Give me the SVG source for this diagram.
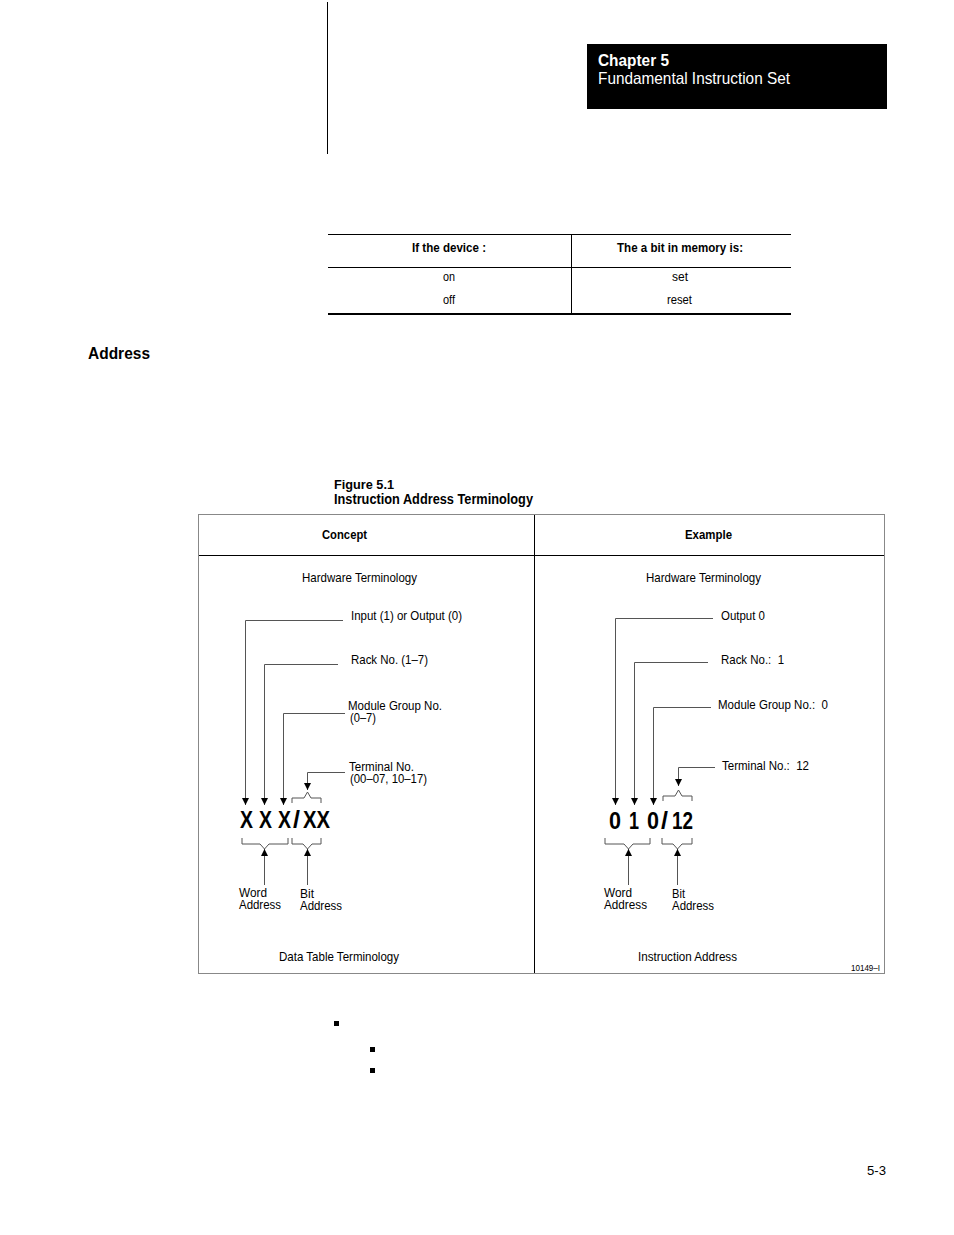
<svg xmlns="http://www.w3.org/2000/svg" width="954" height="1235" viewBox="0 0 954 1235">
<defs>
<style>
text{font-family:"Liberation Sans",Arial,sans-serif;fill:#000}
.t{font-size:13px}
.s{font-size:12.5px}
.b{font-weight:bold}
.h{font-size:13px;font-weight:bold}
.big{font-size:24px;font-weight:bold}
.pre{white-space:pre}
.c{stroke:#555;stroke-width:1;fill:none}
.k{stroke:#000;fill:none}
</style>
<marker id="ar" markerUnits="userSpaceOnUse" markerWidth="8" markerHeight="10" refX="7" refY="3.5" orient="auto">
<path d="M0,0 L7,3.5 L0,7 z" fill="#000"/>
</marker>
</defs>
<rect width="954" height="1235" fill="#fff"/>
<line x1="327.5" y1="2" x2="327.5" y2="154" class="k"/>
<g id="header">
<rect x="587" y="44" width="300" height="65" fill="#000"/>
<text x="598" y="66" style="font-size:16.5px;font-weight:bold;fill:#fff" textLength="71" lengthAdjust="spacingAndGlyphs">Chapter 5</text>
<text x="598" y="84" style="font-size:16.5px;fill:#fff" textLength="192" lengthAdjust="spacingAndGlyphs">Fundamental Instruction Set</text>
</g>
<g id="table">
<line x1="328" y1="234.5" x2="791" y2="234.5" class="k"/>
<line x1="328" y1="267.5" x2="791" y2="267.5" class="k"/>
<line x1="328" y1="314" x2="791" y2="314" class="k" stroke-width="2"/>
<line x1="571.5" y1="234" x2="571.5" y2="314" class="k"/>
<text x="412" y="252" class="h" textLength="74" lengthAdjust="spacingAndGlyphs">If the device :</text>
<text x="617" y="252" class="h" textLength="126" lengthAdjust="spacingAndGlyphs">The a bit in memory is:</text>
<text x="443" y="281" class="t" textLength="12" lengthAdjust="spacingAndGlyphs">on</text>
<text x="443" y="304" class="t" textLength="12" lengthAdjust="spacingAndGlyphs">off</text>
<text x="672" y="281" class="t" textLength="16" lengthAdjust="spacingAndGlyphs">set</text>
<text x="667" y="304" class="t" textLength="25" lengthAdjust="spacingAndGlyphs">reset</text>
</g>
<text x="88" y="359" class="b" style="font-size:16.5px" textLength="62" lengthAdjust="spacingAndGlyphs">Address</text>
<text x="334" y="489" class="h" textLength="60" lengthAdjust="spacingAndGlyphs">Figure 5.1</text>
<text x="334" y="504" class="h" style="font-size:14px" textLength="199" lengthAdjust="spacingAndGlyphs">Instruction Address Terminology</text>
<g id="frame">
<rect x="198.5" y="514.5" width="686" height="459" fill="none" stroke="#888"/>
<line x1="199" y1="555.5" x2="884" y2="555.5" class="k"/>
<line x1="534.5" y1="515" x2="534.5" y2="973" class="k"/>
<text x="322" y="539" class="h" textLength="45" lengthAdjust="spacingAndGlyphs">Concept</text>
<text x="685" y="539" class="h" textLength="47" lengthAdjust="spacingAndGlyphs">Example</text>
</g>
<g id="concept">
<text x="302" y="582" class="t" textLength="115" lengthAdjust="spacingAndGlyphs">Hardware Terminology</text>
<text x="351" y="620" class="t" textLength="111" lengthAdjust="spacingAndGlyphs">Input (1) or Output (0)</text>
<text x="351" y="664" class="t" textLength="77" lengthAdjust="spacingAndGlyphs">Rack No. (1–7)</text>
<text x="348" y="710" class="s" textLength="94" lengthAdjust="spacingAndGlyphs">Module Group No.</text>
<text x="350" y="722" class="s" textLength="26" lengthAdjust="spacingAndGlyphs">(0–7)</text>
<text x="349" y="771" class="s" textLength="65" lengthAdjust="spacingAndGlyphs">Terminal No.</text>
<text x="350" y="783" class="s" textLength="77" lengthAdjust="spacingAndGlyphs">(00–07, 10–17)</text>
<text x="240" y="828" class="big" textLength="13" lengthAdjust="spacingAndGlyphs">X</text>
<text x="259" y="828" class="big" textLength="13" lengthAdjust="spacingAndGlyphs">X</text>
<text x="278" y="828" class="big" textLength="13" lengthAdjust="spacingAndGlyphs">X</text>
<text x="293" y="828" class="big" textLength="7" lengthAdjust="spacingAndGlyphs">/</text>
<text x="303" y="828" class="big" textLength="27" lengthAdjust="spacingAndGlyphs">XX</text>
<text x="239" y="897" class="s" textLength="28" lengthAdjust="spacingAndGlyphs">Word</text>
<text x="239" y="909" class="s" textLength="42" lengthAdjust="spacingAndGlyphs">Address</text>
<text x="300" y="898" class="s" textLength="14" lengthAdjust="spacingAndGlyphs">Bit</text>
<text x="300" y="910" class="s" textLength="42" lengthAdjust="spacingAndGlyphs">Address</text>
<text x="279" y="961" class="t" textLength="120" lengthAdjust="spacingAndGlyphs">Data Table Terminology</text>
</g>
<g id="example">
<text x="646" y="582" class="t" textLength="115" lengthAdjust="spacingAndGlyphs">Hardware Terminology</text>
<text x="721" y="620" class="t" textLength="44" lengthAdjust="spacingAndGlyphs">Output 0</text>
<text x="721" y="664" class="t pre" textLength="63" lengthAdjust="spacingAndGlyphs">Rack No.:  1</text>
<text x="718" y="709" class="t pre" textLength="110" lengthAdjust="spacingAndGlyphs">Module Group No.:  0</text>
<text x="722" y="770" class="t pre" textLength="87" lengthAdjust="spacingAndGlyphs">Terminal No.:  12</text>
<text x="609" y="829" class="big" textLength="12" lengthAdjust="spacingAndGlyphs">0</text>
<text x="629" y="829" class="big" textLength="10" lengthAdjust="spacingAndGlyphs">1</text>
<text x="647" y="829" class="big" textLength="12" lengthAdjust="spacingAndGlyphs">0</text>
<text x="661" y="829" class="big" textLength="7" lengthAdjust="spacingAndGlyphs">/</text>
<text x="672" y="829" class="big" textLength="21" lengthAdjust="spacingAndGlyphs">12</text>
<text x="604" y="897" class="s" textLength="28" lengthAdjust="spacingAndGlyphs">Word</text>
<text x="604" y="909" class="s" textLength="43" lengthAdjust="spacingAndGlyphs">Address</text>
<text x="672" y="898" class="s" textLength="13" lengthAdjust="spacingAndGlyphs">Bit</text>
<text x="672" y="910" class="s" textLength="42" lengthAdjust="spacingAndGlyphs">Address</text>
<text x="638" y="961" class="t" textLength="99" lengthAdjust="spacingAndGlyphs">Instruction Address</text>
<text x="851" y="971" style="font-size:9px" textLength="29" lengthAdjust="spacingAndGlyphs">10149–I</text>
</g>
<g id="connectors">
<path class="c" d="M343,620.5 H245.5 V805" marker-end="url(#ar)"/>
<path class="c" d="M338,664.5 H264.5 V805" marker-end="url(#ar)"/>
<path class="c" d="M345,713.5 H283.5 V805" marker-end="url(#ar)"/>
<path class="c" d="M345,772.5 H307.5 V790" marker-end="url(#ar)"/>
<path class="c" d="M292,803 V798 H304 L307.5,792 L311,798 H321 V803"/>
<path class="c" d="M242,838 V844 H260 L264.5,849 L269,844 H288 V838"/>
<path class="c" d="M292,838 V844 H303 L307.5,849 L312,844 H321 V838"/>
<line class="c" x1="264.5" y1="885" x2="264.5" y2="849" marker-end="url(#ar)"/>
<line class="c" x1="307.5" y1="885" x2="307.5" y2="849" marker-end="url(#ar)"/>
<path class="c" d="M713,618.5 H615.5 V805" marker-end="url(#ar)"/>
<path class="c" d="M708,662.5 H634.5 V805" marker-end="url(#ar)"/>
<path class="c" d="M711,707.5 H653.5 V805" marker-end="url(#ar)"/>
<path class="c" d="M715,767.5 H678.5 V786" marker-end="url(#ar)"/>
<path class="c" d="M663,801 V796 H675 L678.5,790 L682,796 H692 V801"/>
<path class="c" d="M605,838 V844 H624 L628.5,849 L633,844 H650 V838"/>
<path class="c" d="M662,838 V844 H673 L677.5,849 L682,844 H692 V838"/>
<line class="c" x1="628.5" y1="885" x2="628.5" y2="849" marker-end="url(#ar)"/>
<line class="c" x1="677.5" y1="885" x2="677.5" y2="849" marker-end="url(#ar)"/>
</g>
<g id="bullets" fill="#000">
<rect x="334" y="1021" width="5" height="5"/>
<rect x="370" y="1047" width="5" height="5"/>
<rect x="370" y="1068" width="5" height="5"/>
</g>
<text x="867" y="1175" class="t" textLength="19" lengthAdjust="spacingAndGlyphs">5-3</text>
</svg>
